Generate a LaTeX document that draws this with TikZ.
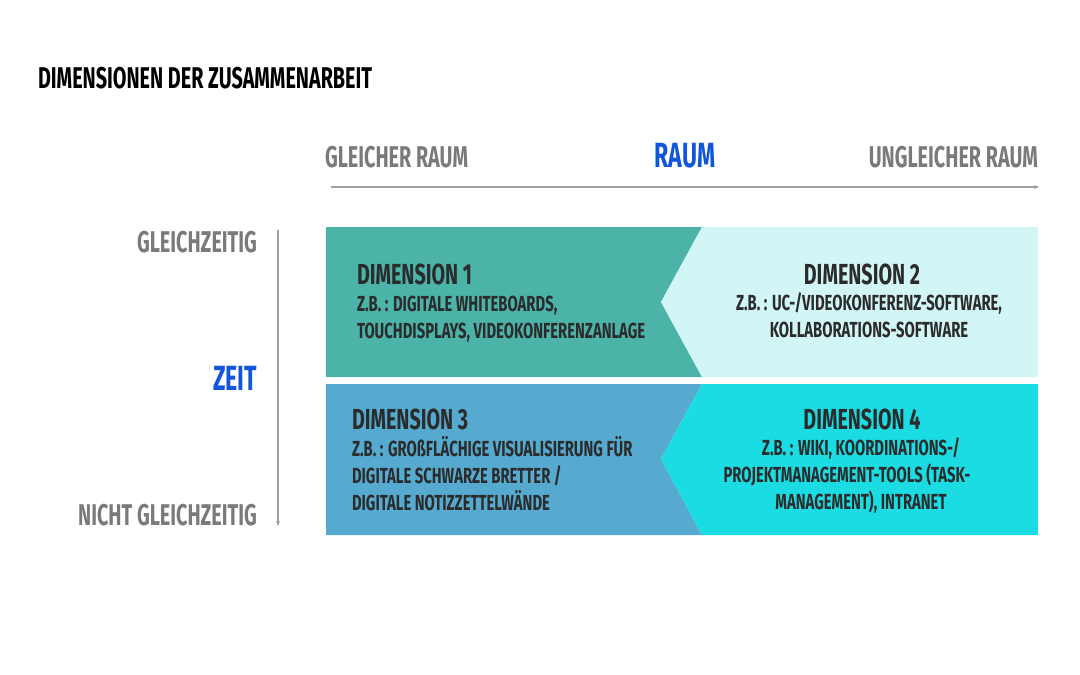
\documentclass[tikz,border=0pt]{standalone}
\usepackage{fontspec}
\usetikzlibrary{arrows.meta}
\newfontfamily\cf{Fira Sans}[FakeStretch=0.66]
\newfontfamily\cfb{Fira Sans}[FakeStretch=0.68]
\definecolor{dimA}{RGB}{75,179,168}
\definecolor{dimB}{RGB}{210,246,246}
\definecolor{dimC}{RGB}{86,170,208}
\definecolor{dimD}{RGB}{27,220,226}
\definecolor{axisgray}{RGB}{160,160,160}
\definecolor{labgray}{RGB}{122,122,122}
\definecolor{accent}{RGB}{17,85,221}
\definecolor{ink}{RGB}{43,43,43}
\tikzset{
  every node/.style={inner sep=0pt, outer sep=0pt},
  axislabel/.style={font=\cf\bfseries\fontsize{30}{30}\selectfont, text=labgray},
  axistitle/.style={font=\cf\bfseries\fontsize{35}{35}\selectfont, text=accent},
  heading/.style={font=\cfb\bfseries\fontsize{29}{29}\selectfont, text=ink},
  body/.style={font=\cfb\bfseries\fontsize{21.8}{27}\selectfont, text=ink},
  axisline/.style={draw=axisgray, line width=1.2pt, -{Stealth[length=5pt,width=4pt]}},
}
\begin{document}
\begin{tikzpicture}[x=1pt,y=-1pt]
\useasboundingbox (0,0) rectangle (1080,675);
% title
\node[anchor=base west, font=\cf\bfseries\fontsize{30}{30}\selectfont, text=black] (title) at (38,88) {DIMENSIONEN DER ZUSAMMENARBEIT};
% space axis
\node[axislabel, anchor=base west] (gr) at (325,167) {GLEICHER RAUM};
\node[axistitle, anchor=base] (raum) at (685,167) {RAUM};
\node[axislabel, anchor=base east] (ur) at (1038,167) {UNGLEICHER RAUM};
\coordinate (hs) at (331,187);
\coordinate (he) at (1039,187);
\draw[axisline] (hs) -- (he);
% time axis
\node[axislabel, anchor=base east] (gz) at (257,252) {GLEICHZEITIG};
\node[axistitle, anchor=base east] (zeit) at (257,390) {ZEIT};
\node[axislabel, anchor=base east] (ngz) at (257,525) {NICHT GLEICHZEITIG};
\coordinate (vs) at (278,230);
\coordinate (ve) at (278,526);
\draw[axisline] (vs) -- (ve);
% blocks
\fill[dimA] (326,227) -- (702,227) -- (661,302) -- (702,377) -- (326,377) -- cycle;
\fill[dimB] (702,227) -- (1038,227) -- (1038,377) -- (702,377) -- (661,302) -- cycle;
\fill[dimC] (326,384) -- (702,384) -- (661,459) -- (702,535) -- (326,535) -- cycle;
\fill[dimD] (702,384) -- (1038,384) -- (1038,535) -- (702,535) -- (661,459) -- cycle;
% texts (base anchor of a multi-line node = baseline of its last line)
\node[heading, anchor=base west] (d1h) at (357,284) {DIMENSION 1};
\node[body, anchor=base west, align=left] (d1b) at (357,338) {Z.B. : DIGITALE WHITEBOARDS,\\TOUCHDISPLAYS, VIDEOKONFERENZANLAGE};
\node[heading, anchor=base] (d2h) at (862,284) {DIMENSION 2};
\node[body, anchor=base, align=center] (d2b) at (869,337) {Z.B. : UC-/VIDEOKONFERENZ-SOFTWARE,\\KOLLABORATIONS-SOFTWARE};
\node[heading, anchor=base west] (d3h) at (352,429) {DIMENSION 3};
\node[body, anchor=base west, align=left] (d3b) at (352,510) {Z.B. : GROßFLÄCHIGE VISUALISIERUNG FÜR\\DIGITALE SCHWARZE BRETTER /\\DIGITALE NOTIZZETTELWÄNDE};
\node[heading, anchor=base] (d4h) at (862,429) {DIMENSION 4};
\node[body, anchor=base, align=center] (d4b) at (847,509) {\hspace*{28pt}Z.B. : WIKI, KOORDINATIONS-/\\PROJEKTMANAGEMENT-TOOLS (TASK-\\\hspace*{28pt}MANAGEMENT), INTRANET};
\end{tikzpicture}
\end{document}
